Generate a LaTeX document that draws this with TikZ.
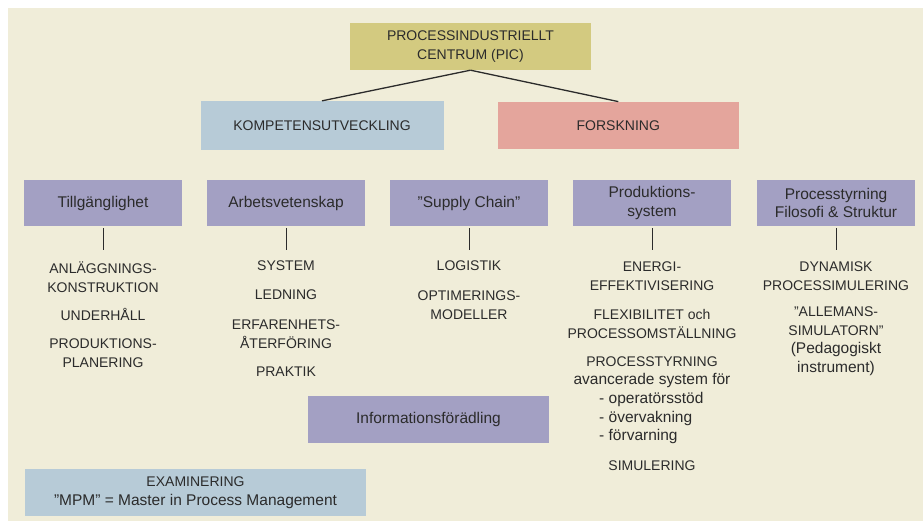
\documentclass[tikz,border=0pt]{standalone}
\usepackage{fontspec}
\setmainfont{Liberation Sans}
\usepackage{tikz}
\usetikzlibrary{positioning}
\definecolor{bgcol}{HTML}{F0EDD9}
\definecolor{piccol}{HTML}{D3CA80}
\definecolor{kompcol}{HTML}{B7CBD7}
\definecolor{forskcol}{HTML}{E4A59C}
\definecolor{areacol}{HTML}{A3A0C3}
\definecolor{textcol}{HTML}{2B2B2B}
\newcommand{\lc}{\fontsize{15.5}{18.5}\selectfont}
\tikzstyle{box}=[minimum width=241pt, minimum height=47pt, inner sep=0pt, align=center, text=textcol, font=\fontsize{14}{18.5}\selectfont]
\tikzstyle{area}=[minimum width=158pt, minimum height=45.5pt, inner sep=0pt, fill=areacol, align=center, text=textcol, font=\lc]
\tikzstyle{item}=[inner sep=0pt, align=center, text=textcol, font=\fontsize{14}{18.5}\selectfont]
\tikzstyle{tick}=[draw=textcol, line width=1pt, shorten <=2.5pt]
\tikzstyle{branch}=[draw=textcol, line width=1.3pt]

\begin{document}
\begin{tikzpicture}[x=1pt, y=-1pt]
  \useasboundingbox (0,0) rectangle (923,526);
  \fill[bgcol] (8,8) rectangle (923,521);

  % top level
  \node [box, fill=piccol] (pic) at (470.5,46.5) {PROCESSINDUSTRIELLT\\CENTRUM (PIC)};
  \node [box, fill=kompcol, minimum width=243pt, minimum height=48.5pt] (komp) at (322,125.3) {KOMPETENSUTVECKLING};
  \node [box, fill=forskcol] (forsk) at (618.3,125.3) {FORSKNING};

  \draw [branch] (pic.south) -- (komp.north);
  \draw [branch] (pic.south) -- (forsk.north);

  % areas
  \node [area] (tillg) at (103,203) {Tillg\"anglighet};
  \node [area] (arbet) at (286,203) {Arbetsvetenskap};
  \node [area] (supply) at (469,203) {"Supply Chain"};
  \node [area] (prod) at (652,203) {Produktions-\\system};
  \node [area] (styr) at (836,203) {Processtyrning\\Filosofi \& Struktur};

  \coordinate (tillg-end) at (103,250);
  \coordinate (arbet-end) at (286,250);
  \coordinate (supply-end) at (469,250);
  \coordinate (prod-end) at (652,250);
  \coordinate (styr-end) at (836,250);

  \draw [tick] (tillg.south) -- (tillg-end);
  \draw [tick] (arbet.south) -- (arbet-end);
  \draw [tick] (supply.south) -- (supply-end);
  \draw [tick] (prod.south) -- (prod-end);
  \draw [tick] (styr.south) -- (styr-end);

  % Tillganglighet
  \node [item] (tg-a) at (103,277) {ANL\"AGGNINGS-\\KONSTRUKTION};
  \node [item] (tg-b) at (103,314) {UNDERH\AA LL};
  \node [item] (tg-c) at (103,353) {PRODUKTIONS-\\PLANERING};

  % Arbetsvetenskap
  \node [item] (ab-a) at (286,266) {SYSTEM};
  \node [item] (ab-b) at (286,295) {LEDNING};
  \node [item] (ab-c) at (286,334) {ERFARENHETS-\\\AA TERF\"ORING};
  \node [item] (ab-d) at (286,372) {PRAKTIK};

  % Supply chain
  \node [item] (sc-a) at (469,266) {LOGISTIK};
  \node [item] (sc-b) at (469,305) {OPTIMERINGS-\\MODELLER};

  % Produktionssystem
  \node [item] (ps-a) at (652,276) {ENERGI-\\EFFEKTIVISERING};
  \node [item] (ps-b) at (652,324) {FLEXIBILITET och\\PROCESSOMST\"ALLNING};
  \node [item] (ps-c) at (652,372) {PROCESSTYRNING\\{\lc avancerade system f\"or}};
  \node [item, align=left, anchor=west, font=\lc] (ps-d) at (599,418) {- operat\"orsst\"od\\- \"overvakning\\- f\"orvarning};
  \node [item] (ps-e) at (652,466) {SIMULERING};

  % Processtyrning
  \node [item] (st-a) at (836,276) {DYNAMISK\\PROCESSIMULERING};
  \node [item] (st-b) at (836,341) {"ALLEMANS-\\SIMULATORN"\\{\lc (Pedagogiskt}\\{\lc instrument)}};

  % bottom boxes
  \node [area, minimum width=241pt, minimum height=47pt] (info) at (428.5,419.5) {Informationsf\"or\"adling};
  \node [box, fill=kompcol, minimum width=341pt] (exam) at (195.5,492.5) {EXAMINERING\\{\lc "MPM" = Master in Process Management}};
\end{tikzpicture}
\end{document}
